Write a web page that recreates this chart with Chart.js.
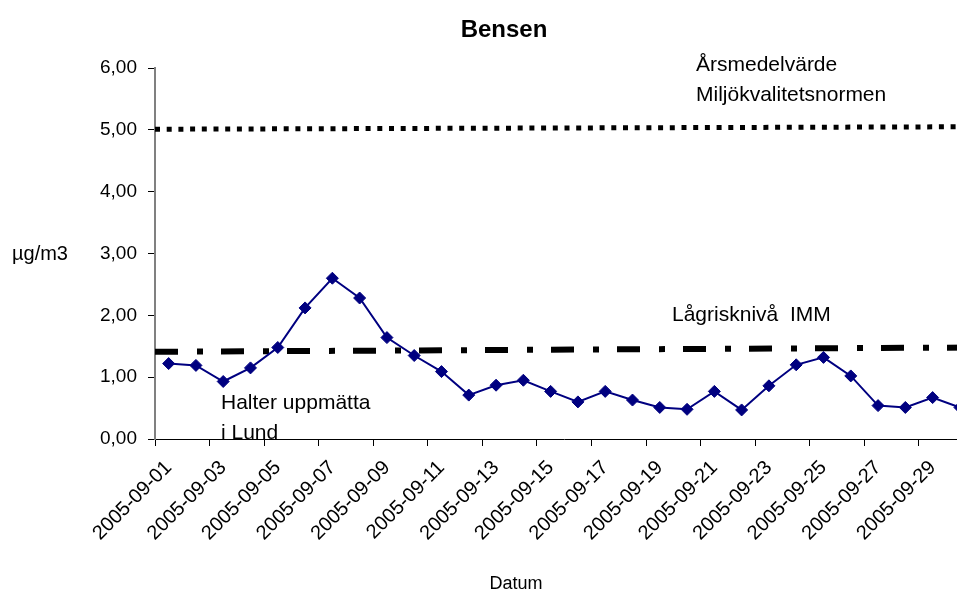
<!DOCTYPE html>
<html>
<head>
<meta charset="utf-8">
<script src="https://cdn.jsdelivr.net/npm/chart.js@4"></script>
<style>
  html, body { margin: 0; padding: 0; background: #fff; overflow: hidden; }
  #wrap { width: 987px; height: 594px; }
</style>
</head>
<body>
<div id="wrap"><canvas id="chart" width="987" height="594"></canvas></div>
<script>
// Data (µg/m3), one value per day
const dates = [
  "2005-09-01", "2005-09-02", "2005-09-03", "2005-09-04", "2005-09-05",
  "2005-09-06", "2005-09-07", "2005-09-08", "2005-09-09", "2005-09-10",
  "2005-09-11", "2005-09-12", "2005-09-13", "2005-09-14", "2005-09-15",
  "2005-09-16", "2005-09-17", "2005-09-18", "2005-09-19", "2005-09-20",
  "2005-09-21", "2005-09-22", "2005-09-23", "2005-09-24", "2005-09-25",
  "2005-09-26", "2005-09-27", "2005-09-28", "2005-09-29", "2005-09-30"
];
const bensen = [
  1.22, 1.19, 0.93, 1.15, 1.48, 2.12, 2.60, 2.28, 1.64, 1.35,
  1.09, 0.71, 0.87, 0.95, 0.77, 0.60, 0.77, 0.63, 0.51, 0.48,
  0.77, 0.47, 0.86, 1.20, 1.32, 1.02, 0.54, 0.51, 0.67, 0.51
];
// reference lines: value at left edge, value at right edge
const normLine = [5.01, 5.05];     // Årsmedelvärde Miljökvalitetsnormen
const lowRiskLine = [1.41, 1.48];  // Lågrisknivå IMM
const yMin = 0, yMax = 6, yStep = 1;

const FONT = "'Liberation Sans', Arial, sans-serif";

function drawRef(ctx, area, yScale, vals, dash, width) {
  ctx.save();
  ctx.beginPath();
  ctx.rect(area.left, area.top - 10, area.right - area.left, area.bottom - area.top + 20);
  ctx.clip();
  ctx.strokeStyle = "#000";
  ctx.lineWidth = width;
  ctx.lineCap = "butt";
  ctx.setLineDash(dash);
  ctx.beginPath();
  ctx.moveTo(area.left, yScale.getPixelForValue(vals[0]));
  ctx.lineTo(area.right, yScale.getPixelForValue(vals[1]));
  ctx.stroke();
  ctx.restore();
}

const overlay = {
  id: "overlay",
  beforeDatasetsDraw(chart) {
    const { ctx, chartArea, scales } = chart;
    drawRef(ctx, chartArea, scales.y, normLine, [5, 6.7], 5);
    drawRef(ctx, chartArea, scales.y, lowRiskLine, [23, 19, 6, 18], 6);
  },
  afterDraw(chart) {
    const ctx = chart.ctx;
    ctx.save();
    ctx.fillStyle = "#000";
    ctx.textBaseline = "middle";
    ctx.textAlign = "center";
    ctx.font = "bold 24px " + FONT;
    ctx.fillText("Bensen", 504, 30);
    ctx.font = "18px " + FONT;
    ctx.fillText("Datum", 516, 584);
    ctx.textAlign = "left";
    ctx.font = "20px " + FONT;
    ctx.fillText("µg/m3", 12, 254);
    ctx.font = "21px " + FONT;
    ctx.fillText("Årsmedelvärde", 696, 65);
    ctx.fillText("Miljökvalitetsnormen", 696, 95);
    ctx.fillText("Lågrisknivå  IMM", 672, 315);
    ctx.fillText("Halter uppmätta", 221, 403);
    ctx.fillText("i Lund", 221, 433);
    ctx.restore();
  }
};

new Chart(document.getElementById("chart").getContext("2d"), {
  type: "line",
  data: {
    labels: dates,
    datasets: [{
      label: "Bensen",
      data: bensen,
      borderColor: "#000080",
      backgroundColor: "#000080",
      borderWidth: 2,
      pointStyle: "rectRot",
      pointRadius: 6,
      pointBorderWidth: 1,
      tension: 0,
      fill: false
    }]
  },
  options: {
    responsive: false,
    animation: false,
    devicePixelRatio: 1,
    layout: { padding: { top: 68, right: 0, left: 0, bottom: 0 } },
    plugins: {
      legend: { display: false },
      tooltip: { enabled: false },
      title: { display: false }
    },
    scales: {
      x: {
        offset: true,
        grid: {
          offset: true,
          drawOnChartArea: false,
          tickLength: 7,
          tickWidth: 1,
          tickColor: c => (c.index % 2 === 0 ? "#000" : "rgba(0,0,0,0)")
        },
        border: { color: "#000", width: 1 },
        ticks: {
          autoSkip: false,
          minRotation: 45,
          maxRotation: 45,
          padding: 10,
          color: "#000",
          font: { family: FONT, size: 20 },
          callback: (v, i) => (i % 2 === 0 ? dates[i] : "")
        },
        afterFit: s => { s.height = 155; }
      },
      y: {
        min: yMin,
        max: yMax,
        grid: { drawOnChartArea: false, tickLength: 7, tickColor: "#000" },
        border: { color: "#808080", width: 2 },
        ticks: {
          stepSize: yStep,
          padding: 11,
          color: "#000",
          font: { family: FONT, size: 19 },
          callback: v => v.toFixed(2).replace(".", ",")
        },
        afterFit: s => { s.width = 155; }
      }
    }
  },
  plugins: [overlay]
});
</script>
</body>
</html>
